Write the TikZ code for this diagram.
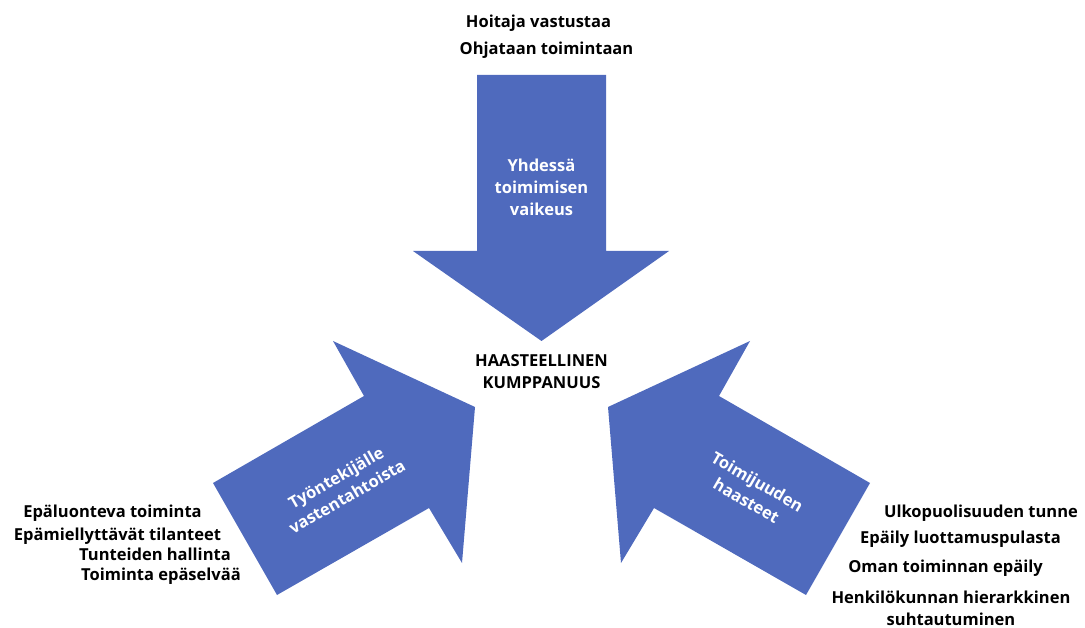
\documentclass[tikz,border=0pt]{standalone}
\usepackage{fontspec}
\setmainfont{Open Sans}
\definecolor{arrowblue}{RGB}{79,106,189}
\begin{document}
\begin{tikzpicture}[x=1pt,y=-1pt,
  lbl/.style={font=\bfseries\fontsize{16.5}{22}\selectfont, text=black, inner sep=0pt},
  inlbl/.style={lbl, text=white, align=center},
  arrowshape/.style={fill=arrowblue}]
\useasboundingbox (0,0) rectangle (1085,628);

% three block arrows pointing at the centre
\fill[arrowshape] (477,75) -- (606,75) -- (606,251) -- (669,251) -- (541.5,341)
  -- (413,251) -- (477,251) -- cycle;
\fill[arrowshape] (213,483) -- (364,396) -- (333,341) -- (475,407) -- (462,563)
  -- (429,508) -- (277,595) -- cycle;
\fill[arrowshape] (870,483) -- (719,396) -- (750,341) -- (608,407) -- (621,563)
  -- (654,508) -- (806,595) -- cycle;

% arrow labels
\node[inlbl] (topl) at (541.5,187) {Yhdessä\\toimimisen\\vaikeus};
\node[inlbl, rotate=30] (leftl) at (341.5,487) {Työntekijälle\\vastentahtoista};
\node[inlbl, rotate=-30] (rightl) at (752,491) {Toimijuuden\\haasteet};

% centre
\node[lbl, align=center] (core) at (541.5,372) {HAASTEELLINEN\\KUMPPANUUS};

% top notes
\node[lbl, anchor=base] (t1) at (538.5,28) {Hoitaja vastustaa};
\node[lbl, anchor=base] (t2) at (546.5,55) {Ohjataan toimintaan};

% left notes
\node[lbl, anchor=base] (l1) at (112.5,517) {Epäluonteva toiminta};
\node[lbl, anchor=base] (l2) at (117.5,540) {Epämiellyttävät tilanteet};
\node[lbl, anchor=base] (l3) at (155,560) {Tunteiden hallinta};
\node[lbl, anchor=base] (l4) at (161,580) {Toiminta epäselvää};

% right notes
\node[lbl, anchor=base] (r1) at (981,517) {Ulkopuolisuuden tunne};
\node[lbl, anchor=base] (r2) at (960.5,543) {Epäily luottamuspulasta};
\node[lbl, anchor=base] (r3) at (945.5,572) {Oman toiminnan epäily};
\node[lbl, align=center] (r4) at (951,608) {Henkilökunnan hierarkkinen\\suhtautuminen};
\end{tikzpicture}
\end{document}
